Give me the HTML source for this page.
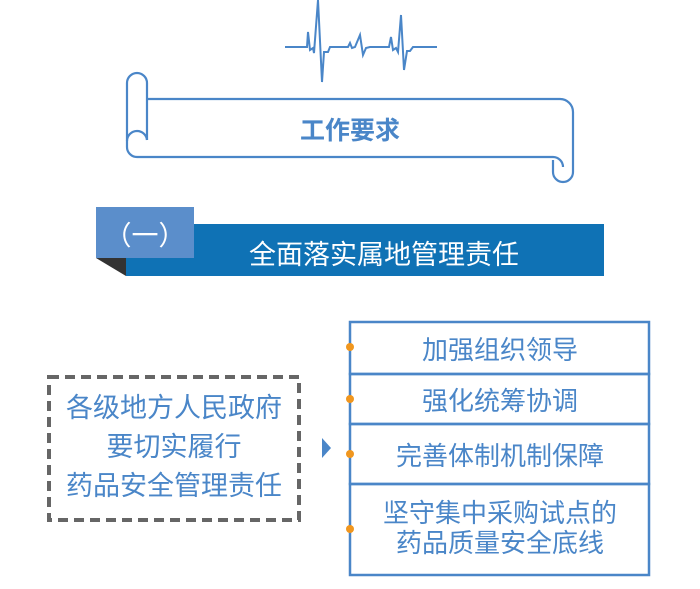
<!DOCTYPE html>
<html><head><meta charset="utf-8"><style>
body{margin:0;width:700px;height:589px;background:#fff;overflow:hidden;position:relative;font-family:"Liberation Sans","Noto Sans CJK SC",sans-serif}
.t{position:absolute;text-align:center;white-space:nowrap}
</style></head><body>
<svg width="700" height="589" style="position:absolute;left:0;top:0">
<polyline fill="none" stroke="#4a86c8" stroke-width="2" points="285,47 307,47 308,32 310,50 313,48 314,53 318,0 322,82 324,52 328,52 330,47 348,47 350,43 352,48 355,47 360,35 363,55 366,48 370,47 389,47 391,37 393,50 396,48 398,52 401,15 404,70 407,51 410,51 413,47 437,47"/>
<g fill="none" stroke="#4a86c8" stroke-width="2.2">
<path d="M147,140 L147,83 A10,10 0 0 0 127,83 L127,147 A10,10 0 0 0 137,157 L553,157 A10,10 0 0 1 563,167"/>
<path d="M147,140 A10,10 0 0 0 137,131 A10,10 0 0 0 127,141"/>
<path d="M147,99 L560,99 A13,13 0 0 1 573,112 L573,172 A10,10 0 0 1 553,172 L553,160"/>
</g>
<rect x="126" y="224" width="478" height="52" fill="#0f72b5"/>
<polygon points="96,258 126,258 126,276" fill="#333"/>
<rect x="96" y="207" width="98" height="51" fill="#5b8ecb"/>
<rect x="49" y="377" width="250" height="143" fill="none" stroke="#666" stroke-width="4" stroke-dasharray="10,6"/>
<g fill="none" stroke="#4a86c8" stroke-width="2.5">
<rect x="350" y="322" width="299" height="52"/>
<rect x="350" y="374" width="299" height="50"/>
<rect x="350" y="424" width="299" height="60"/>
<rect x="350" y="484" width="299" height="91"/>
</g>
<polygon points="322,438 331,448 322,458" fill="#4a86c8"/>
<g fill="#f0961e"><circle cx="350" cy="347" r="4"/><circle cx="350" cy="399" r="4"/><circle cx="350" cy="454" r="4"/><circle cx="350" cy="529" r="4"/></g>
</svg>
<div class="t" style="left:250px;top:111px;width:200px;font-size:25px;font-weight:bold;color:#4a86c8">工作要求</div>
<div class="t" style="left:96px;top:214px;width:98px;font-size:27px;color:#fff">（一）</div>
<div class="t" style="left:184px;top:233px;width:400px;font-size:27px;color:#fff">全面落实属地管理责任</div>
<div class="t" style="left:49px;top:389px;width:250px;font-size:27px;line-height:39px;color:#4a86c8">各级地方人民政府<br>要切实履行<br>药品安全管理责任</div>
<div class="t" style="left:350px;top:330px;width:300px;font-size:26px;color:#4a86c8">加强组织领导</div>
<div class="t" style="left:350px;top:381px;width:300px;font-size:26px;color:#4a86c8">强化统筹协调</div>
<div class="t" style="left:350px;top:436px;width:300px;font-size:26px;color:#4a86c8">完善体制机制保障</div>
<div class="t" style="left:350px;top:498px;width:300px;font-size:26px;line-height:30px;color:#4a86c8">坚守集中采购试点的<br>药品质量安全底线</div>
</body></html>
